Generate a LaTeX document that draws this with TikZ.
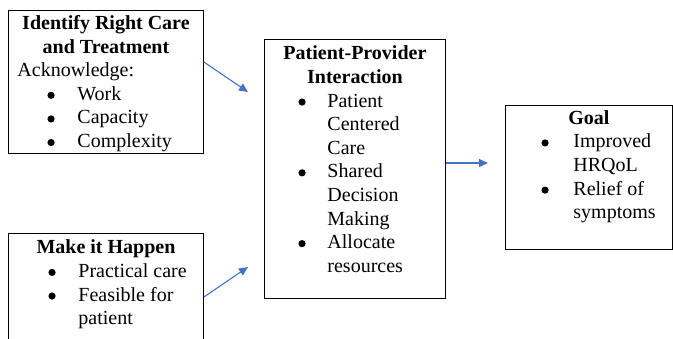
\documentclass[tikz,border=0pt]{standalone}
\usepackage{fontspec}
\setmainfont{Liberation Serif}
\usetikzlibrary{arrows.meta}

\definecolor{linkblue}{HTML}{4472C4}
\tikzset{
  box/.style={draw, line width=0.9pt, inner xsep=9pt, inner ysep=5pt, anchor=north west},
  link/.style={draw=linkblue, line width=1.1pt, -{Triangle[length=9pt,width=8pt]}},
}
\newlength{\bulind}
\newlength{\itind}
\newcommand{\bigbul}{\tikz[x=1pt,y=1pt,baseline=0pt]\fill (3.4,5) circle [radius=3.6pt];}
\newcommand{\bitem}[1]{\par\noindent\hangindent=\itind\hangafter=1\makebox[\itind][l]{\hspace{\bulind}\bigbul}#1}
\newcommand{\boxtext}[3]{\parbox[c][#2][t]{#1}{\fontsize{20}{23.6}\selectfont\raggedright #3\par}}

\begin{document}
\begin{tikzpicture}[x=1pt, y=-1pt]
\useasboundingbox (0,0) rectangle (673,338);
\clip (0,0) rectangle (673,338);

% the four boxes
\node[box] (ident) at (8,10) {\boxtext{177pt}{133pt}{%
  {\centering\bfseries Identify Right Care\\ and Treatment\par}
  \setlength{\bulind}{30pt}\setlength{\itind}{60pt}%
  \noindent Acknowledge:
  \bitem{Work}
  \bitem{Capacity}
  \bitem{Complexity}}};

\node[box] (happen) at (8,233) {\boxtext{177pt}{140pt}{%
  \vspace*{1.5pt}{\centering\bfseries Make it Happen\par}
  \setlength{\bulind}{31pt}\setlength{\itind}{61pt}%
  \bitem{Practical care}
  \bitem{Feasible for\newline patient}}};

\node[box] (ppi) at (264,39) {\boxtext{163pt}{249pt}{%
  \vspace*{1.5pt}{\centering\bfseries Patient-Provider\\ Interaction\par}
  \setlength{\bulind}{25pt}\setlength{\itind}{54pt}%
  \bitem{Patient\newline Centered\newline Care}
  \bitem{Shared\newline Decision\newline Making}
  \bitem{Allocate\newline resources}}};

\node[box] (goal) at (505,105) {\boxtext{149pt}{134pt}{%
  {\centering\bfseries Goal\par}
  \setlength{\bulind}{27pt}\setlength{\itind}{59pt}%
  \bitem{Improved\newline HRQoL}
  \bitem{Relief of\newline symptoms}}};

% arrows
\coordinate (in1) at (248,92);
\coordinate (in2) at (248,267);
\coordinate (in3) at (488,163);
\draw[link] (ident.north east) ++(0,52) -- (in1);
\draw[link] (happen.north east) ++(0,64) -- (in2);
\draw[link] (ppi.north east) ++(0,124) -- (in3);
\end{tikzpicture}
\end{document}
